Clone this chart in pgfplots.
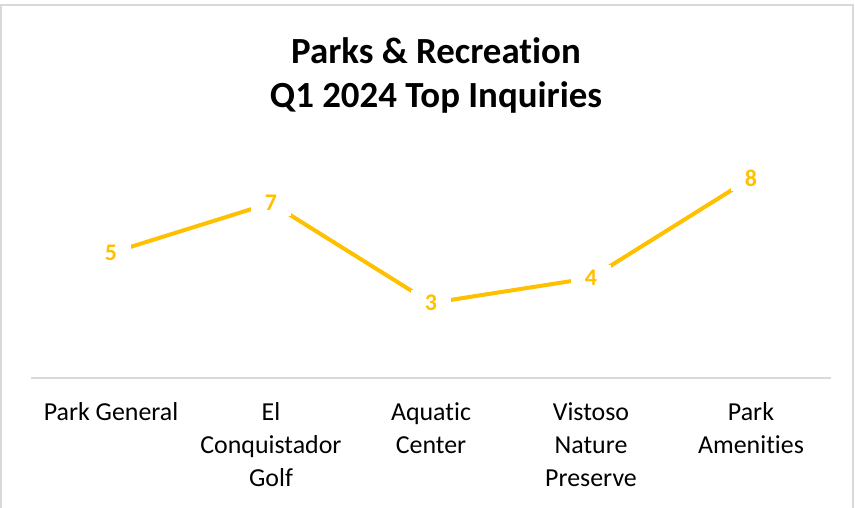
\documentclass[border=0pt]{standalone}
\usepackage{fontspec}
\setmainfont{Carlito}[Ligatures=CommonOff]
\usepackage{pgfplots}
\pgfplotsset{compat=1.18}
\definecolor{gold}{HTML}{FFC000}
\definecolor{axisgray}{HTML}{D9D9D9}
\begin{document}
\begin{tikzpicture}[x=1bp,y=1bp]
\begin{axis}[
  at={(0,0)}, anchor=south west,
  scale only axis, width=800bp, height=250bp,
  xmin=-0.5, xmax=4.5, ymin=0, ymax=10,
  axis x line*=bottom, axis y line=none,
  x axis line style={draw=axisgray, line width=1.5bp},
  xtick={0,...,4}, major tick length=0,
  xticklabels={Park General, El\\Conquistador\\Golf, Aquatic\\Center, Vistoso\\Nature\\Preserve, Park\\Amenities},
  xticklabel style={align=center, font=\fontsize{26}{33}\selectfont, anchor=north, yshift=-21bp},
  clip=false,
  nodes near coords={\pgfmathprintnumber[assume math mode=true]{\pgfplotspointmeta}},
  every node near coord/.style={anchor=center, fill=white, inner xsep=14bp, inner ysep=5bp,
    font=\fontsize{24}{24}\selectfont\bfseries, text=gold},
]
\addplot[gold, line width=4bp, no marks] coordinates {(0,5) (1,7) (2,3) (3,4) (4,8)};
\end{axis}
\node[anchor=base, font=\fontsize{37}{37}\selectfont\bfseries] at (405,314) {Parks \& Recreation};
\node[anchor=base, font=\fontsize{37}{37}\selectfont\bfseries] at (405,270) {Q1 2024 Top Inquiries};
\draw[axisgray, line width=1.5bp] (-30,373) rectangle (822,-134);
\pgfresetboundingbox
\path (-31,378) rectangle (824,-130);
\end{tikzpicture}
\end{document}
